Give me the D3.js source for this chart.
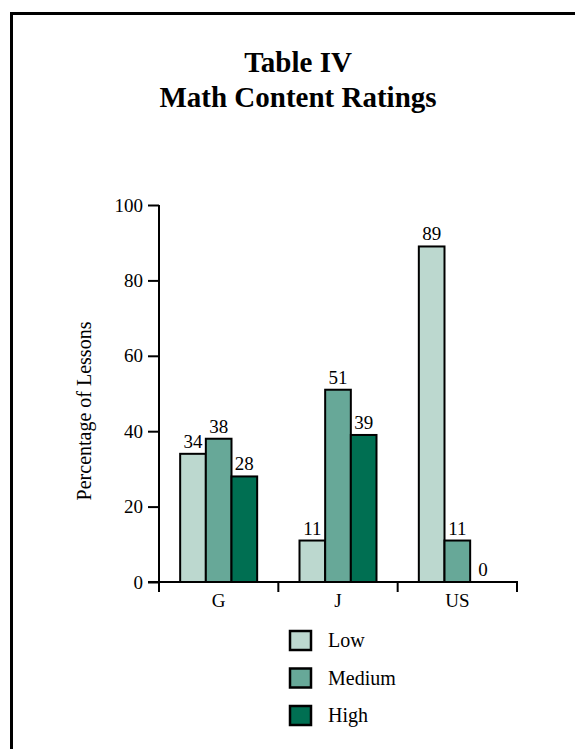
<!DOCTYPE html>
<html>
<head>
<meta charset="utf-8">
<script src="https://cdn.jsdelivr.net/npm/d3@7"></script>
<style>
  html, body { margin: 0; padding: 0; background: #fff; overflow: hidden; }
  svg { display: block; }
</style>
</head>
<body>
<svg id="chart" width="575" height="749"></svg>
<script>
// Math content ratings by country, percentage of lessons
const categories = ["G", "J", "US"];
const seriesNames = ["Low", "Medium", "High"];
const lowValues = [34, 11, 89];
const mediumValues = [38, 51, 11];
const highValues = [28, 39, 0];
const yTicks = [0, 20, 40, 60, 80, 100];
const colors = ["#bcd8cf", "#67a898", "#006f52"];

const FONT = "Liberation Serif";

const seriesValues = [lowValues, mediumValues, highValues];
const rows = categories.map((c, i) => ({
  category: c,
  values: seriesNames.map((s, j) => ({ series: s, value: seriesValues[j][i] }))
}));

const svg = d3.select("#chart");

// frame: top and left edges of the surrounding box
svg.append("path")
  .attr("d", "M11.5,749 L11.5,13.5 L575,13.5")
  .attr("fill", "none").attr("stroke", "#000").attr("stroke-width", 3);

// title
const title = svg.append("text")
  .attr("text-anchor", "middle")
  .attr("font-weight", "bold")
  .attr("font-family", FONT)
  .attr("font-size", 29);
title.append("tspan").attr("x", 298).attr("y", 72).text("Table IV");
title.append("tspan").attr("x", 298).attr("y", 106.5).text("Math Content Ratings");

const x0 = 159, x1 = 517, yBase = 582, yTop = 205;

const x = d3.scaleBand().domain(categories).range([x0, x1]).paddingInner(0).paddingOuter(0);
const groupW = 77;
const xs = d3.scaleBand().domain(seriesNames)
  .range([(x.bandwidth() - groupW) / 2, (x.bandwidth() + groupW) / 2]);
const y = d3.scaleLinear().domain([0, 100]).range([yBase, yTop]);
const color = d3.scaleOrdinal().domain(seriesNames).range(colors);

// y axis
const yAxis = svg.append("g")
  .attr("transform", `translate(${x0},0)`)
  .call(d3.axisLeft(y).tickValues(yTicks).tickSize(11).tickPadding(5).tickSizeOuter(0))
  .attr("font-family", FONT).attr("font-size", 19);
yAxis.select(".domain").remove();
yAxis.selectAll(".tick line").attr("stroke", "#000").attr("stroke-width", 2);
yAxis.selectAll(".tick text").attr("fill", "#000");
svg.append("line")
  .attr("x1", x0).attr("x2", x0)
  .attr("y1", yTop).attr("y2", yBase + 10)
  .attr("stroke", "#000").attr("stroke-width", 2);

// x axis line and category boundary ticks
svg.append("line")
  .attr("x1", x0 - 11).attr("x2", x1 + 1)
  .attr("y1", yBase).attr("y2", yBase)
  .attr("stroke", "#000").attr("stroke-width", 2);
const bounds = categories.map(c => x(c) + x.bandwidth());
svg.selectAll(".xb").data(bounds).enter().append("line")
  .attr("x1", d => d).attr("x2", d => d)
  .attr("y1", yBase).attr("y2", yBase + 10)
  .attr("stroke", "#000").attr("stroke-width", 2);

const xAxis = svg.append("g")
  .attr("transform", `translate(0,${yBase})`)
  .call(d3.axisBottom(x).tickSize(0).tickPadding(12))
  .attr("font-family", FONT).attr("font-size", 19);
xAxis.select(".domain").remove();
xAxis.selectAll(".tick text").attr("fill", "#000");

// y axis title
svg.append("text")
  .attr("transform", "translate(91,411) rotate(-90)")
  .attr("text-anchor", "middle")
  .attr("font-family", FONT)
  .attr("font-size", 20)
  .text("Percentage of Lessons");

// bars
const groups = svg.selectAll(".grp").data(rows).enter().append("g")
  .attr("transform", d => `translate(${x(d.category)},0)`);
groups.selectAll("rect").data(d => d.values.filter(v => v.value > 0)).enter().append("rect")
  .attr("x", d => xs(d.series))
  .attr("y", d => y(d.value))
  .attr("width", xs.bandwidth())
  .attr("height", d => y(0) - y(d.value))
  .attr("fill", d => color(d.series))
  .attr("stroke", "#000").attr("stroke-width", 2);
groups.selectAll(".val").data(d => d.values).enter().append("text")
  .attr("x", d => xs(d.series) + xs.bandwidth() / 2)
  .attr("y", d => y(d.value) - 6)
  .attr("text-anchor", "middle")
  .attr("font-family", FONT)
  .attr("font-size", 19)
  .text(d => d.value);

// legend
const legend = svg.selectAll(".leg").data(seriesNames).enter().append("g")
  .attr("transform", (d, i) => `translate(290,${631 + i * 37.5})`);
legend.append("rect")
  .attr("width", 21).attr("height", 19)
  .attr("fill", d => color(d))
  .attr("stroke", "#000").attr("stroke-width", 2.5);
legend.append("text")
  .attr("x", 38).attr("y", 16)
  .attr("font-family", FONT)
  .attr("font-size", 20)
  .text(d => d);
</script>
</body>
</html>
